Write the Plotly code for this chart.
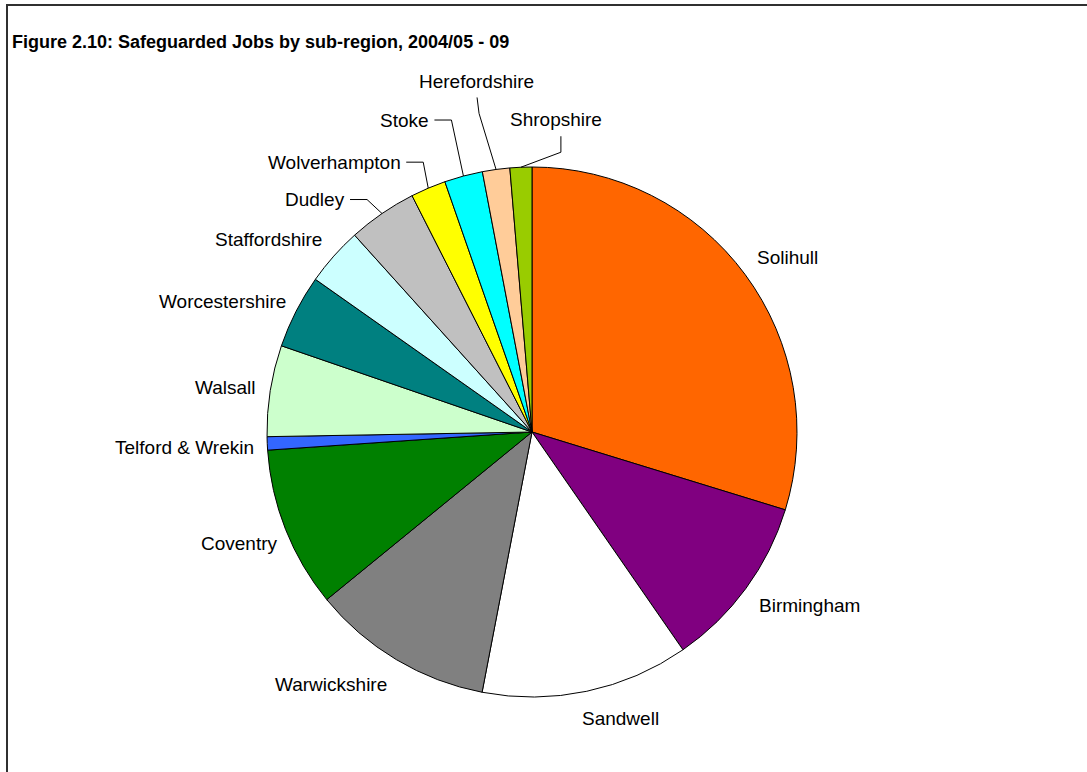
import numpy as np
import plotly.graph_objects as go

# Safeguarded jobs by sub-region, 2004/05 - 09
regions = ["Solihull", "Birmingham", "Sandwell", "Warwickshire", "Coventry",
           "Telford & Wrekin", "Walsall", "Worcestershire", "Staffordshire",
           "Dudley", "Wolverhampton", "Stoke", "Herefordshire", "Shropshire"]
jobs = [2678, 955, 1140, 998, 883, 73, 500, 405, 320, 378, 193, 210, 150, 120]
colors = ["#FF6600", "#800080", "#FFFFFF", "#808080", "#008000", "#3366FF",
          "#CCFFCC", "#008080", "#CCFFFF", "#C0C0C0", "#FFFF00", "#00FFFF",
          "#FFCC99", "#99CC00"]

W, H = 1087, 772
CX, CY, R = 532, 432, 265  # pie centre and radius in pixels


def px(x):
    return x / W


def py(y):
    return 1 - y / H


# label placement relative to the slice's outer mid-point (pixels)
label_style = {
    "Solihull":         dict(off=(42, -17), anchor="center"),
    "Birmingham":       dict(off=(64, 17), anchor="center"),
    "Sandwell":         dict(off=(34, 27), anchor="center"),
    "Warwickshire":     dict(off=(-65, 25), anchor="center"),
    "Coventry":         dict(off=(-46, 14), anchor="center"),
    "Telford & Wrekin": dict(off=(-83, 4), anchor="center"),
    "Walsall":          dict(off=(-45, -3), anchor="center"),
    "Worcestershire":   dict(off=(-74, -10), anchor="center"),
    "Staffordshire":    dict(off=(-65, -17), anchor="center"),
    "Dudley":           dict(off=(-35, -14), anchor="right",
                             leader=[(-15, -14), (-32, -14)]),
    "Wolverhampton":    dict(off=(-25, -26), anchor="right",
                             leader=[(-5, -26), (-22, -26)]),
    "Stoke":            dict(off=(-32, -56), anchor="right",
                             leader=[(-12, -56), (-29, -56)]),
    "Herefordshire":    dict(off=(-20, -88), anchor="center",
                             leader=[(-17, -56), (-19, -72)]),
    "Shropshire":       dict(off=(35, -48), anchor="center",
                             leader=[(40, -15), (40, -31)]),
}

fig = go.Figure()
fig.add_trace(go.Pie(
    labels=regions,
    values=jobs,
    sort=False,
    direction="clockwise",
    rotation=0,
    marker=dict(colors=colors, line=dict(color="#000000", width=1)),
    textinfo="none",
    hoverinfo="label+value+percent",
    showlegend=False,
    domain=dict(x=[px(CX - R), px(CX + R)], y=[py(CY + R), py(CY - R)]),
))

vals = np.array(jobs, dtype=float)
mid_deg = (np.cumsum(vals) - vals / 2) / vals.sum() * 360.0

annotations = []
shapes = []
for name, ang in zip(regions, mid_deg):
    a = np.radians(ang)
    ex, ey = CX + R * np.sin(a), CY - R * np.cos(a)
    st = label_style[name]
    dx, dy = st["off"]
    annotations.append(dict(
        text=name, x=px(ex + dx), y=py(ey + dy), xref="paper", yref="paper",
        xanchor=st["anchor"], yanchor="middle", showarrow=False,
        font=dict(family="Liberation Sans, Arial, sans-serif", size=19,
                  color="#000000"),
    ))
    if "leader" in st:
        pts = [(ex, ey)] + [(ex + ox, ey + oy) for ox, oy in st["leader"]]
        path = "M " + " L ".join(f"{px(x):.5f},{py(y):.5f}" for x, y in pts)
        shapes.append(dict(type="path", path=path, xref="paper", yref="paper",
                           line=dict(color="#000000", width=1)))

# chart frame
shapes.append(dict(type="rect", xref="paper", yref="paper",
                   x0=px(7), y0=py(5), x1=1.02, y1=-0.02,
                   line=dict(color="#303030", width=2)))

annotations.append(dict(
    text="<b>Figure 2.10: Safeguarded Jobs by sub-region, 2004/05 - 09</b>",
    x=px(10), y=py(42), xref="paper", yref="paper",
    xanchor="left", yanchor="middle", showarrow=False,
    font=dict(family="Liberation Sans, Arial, sans-serif", size=18,
              color="#000000"),
))

fig.update_layout(
    width=W, height=H,
    margin=dict(l=0, r=0, t=0, b=0),
    paper_bgcolor="#FFFFFF",
    plot_bgcolor="#FFFFFF",
    annotations=annotations,
    shapes=shapes,
)

fig.write_html("out.html")
